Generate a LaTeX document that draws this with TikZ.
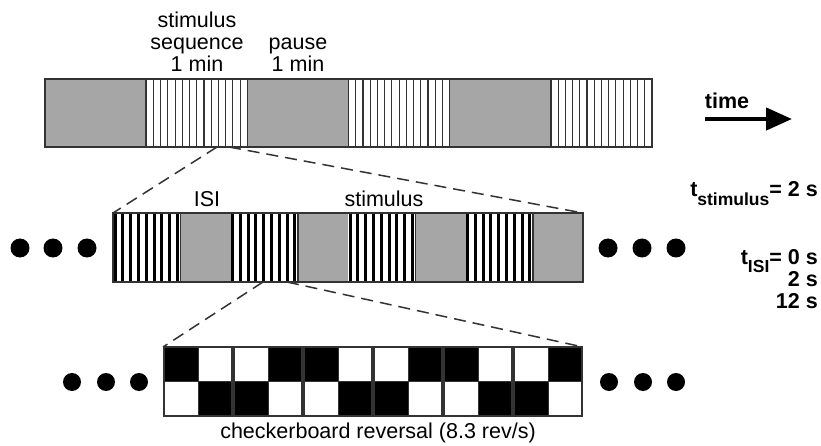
\documentclass[tikz,border=0pt]{standalone}
\usepackage{fontspec}
\setmainfont{Liberation Sans}
\usetikzlibrary{arrows.meta}
\definecolor{barfill}{gray}{0.65}
\definecolor{edge}{gray}{0.2}
\begin{document}
\begin{tikzpicture}[x=1pt,y=-1pt,
  bar/.style={draw=edge, line width=1.5pt, inner sep=0pt, outer sep=0pt, rectangle},
  thinline/.style={draw=edge, line width=1.1pt},
  blackbar/.style={fill=black},
  zoomline/.style={draw=black!80, line width=1.5pt, dash pattern=on 12pt off 7pt},
  dot/.style={circle, fill=black, inner sep=0pt, minimum size=19pt},
  lbl/.style={font=\fontsize{21.5}{22}\selectfont, inner sep=0pt},
  blbl/.style={font=\fontsize{21.5}{22}\selectfont\bfseries, inner sep=0pt}]
\useasboundingbox (0,0) rectangle (821,446);

% ---------- top bar ----------
\foreach \i in {0,2,4}
  \fill[barfill] ({45+\i*101.17},79) rectangle ({45+(\i+1)*101.17},147);
\foreach \i in {1,3,5}
  \foreach \k in {1,...,13}
    \draw[thinline] ({45+\i*101.17+\k*7.23},79) -- ++(0,68);
\foreach \i in {1,...,5}
  \draw[edge, line width=1.5pt] ({45+\i*101.17},79) -- ++(0,68);
\node[bar, minimum width=607pt, minimum height=68pt] (topbar) at (348.5,113) {};

% ---------- middle bar ----------
\foreach \i in {0,...,3}{
  \fill[barfill] ({113+\i*117.5+67.5},213) rectangle ({113+\i*117.5+117.5},282);
  \foreach \k in {0,...,8}
    \fill[blackbar] ({113+\i*117.5+0.5+\k*7.8},213) rectangle ++(3,69);
  \draw[edge, line width=1.2pt] ({113+\i*117.5+67.5},213) -- ++(0,69);
}
\node[bar, minimum width=470pt, minimum height=69pt] (midbar) at (348,247.5) {};

% ---------- checkerboard ----------
\foreach \g in {0,...,5}{
  \pgfmathsetmacro{\xo}{163+\g*70}
  \ifodd\g
    \fill[black] ({\xo+35},347) rectangle ({\xo+70},381.5);
    \fill[black] ({\xo},381.5) rectangle ({\xo+35},416);
  \else
    \fill[black] ({\xo},347) rectangle ({\xo+35},381.5);
    \fill[black] ({\xo+35},381.5) rectangle ({\xo+70},416);
  \fi
  \draw[edge, line width=1pt] ({\xo+35},347) -- ++(0,69);
  \draw[edge, line width=1pt] ({\xo},381.5) -- ++(70,0);
  \draw[edge, line width=1.3pt] ({\xo+1},347) rectangle ({\xo+69},416);
}
\node[rectangle, inner sep=0pt, outer sep=0pt, minimum width=420pt, minimum height=69pt] (checker) at (373,381.5) {};

% ---------- zoom connectors ----------
\coordinate (za) at (217,147);
\coordinate (zb) at (229,147);
\coordinate (zc) at (263,282);
\coordinate (zd) at (287,282);
\draw[zoomline] (za) -- (midbar.north west);
\draw[zoomline] (zb) -- (midbar.north east);
\draw[zoomline] (zc) -- (checker.north west);
\draw[zoomline] (zd) -- (checker.north east);

% ---------- dots ----------
\node[dot] (d1) at (20,248) {};
\node[dot] (d2) at (53,248) {};
\node[dot] (d3) at (87,248) {};
\node[dot] (d4) at (608,248) {};
\node[dot] (d5) at (642,248) {};
\node[dot] (d6) at (676,248) {};
\node[dot, minimum size=18pt] (e1) at (72,382) {};
\node[dot, minimum size=18pt] (e2) at (106,382) {};
\node[dot, minimum size=18pt] (e3) at (139,382) {};
\node[dot, minimum size=18pt] (e4) at (609,382) {};
\node[dot, minimum size=18pt] (e5) at (643,382) {};
\node[dot, minimum size=18pt] (e6) at (676,382) {};

% ---------- labels ----------
\node[lbl, anchor=base] (s1) at (197,28) {stimulus};
\node[lbl, anchor=base] (s2) at (197,50) {sequence};
\node[lbl, anchor=base] (s3) at (197,72) {1 min};
\node[lbl, anchor=base] (p1) at (298,50) {pause};
\node[lbl, anchor=base] (p2) at (298,72) {1 min};
\node[lbl, anchor=base] (isi) at (207,207) {ISI};
\node[lbl, anchor=base] (stim) at (384,207) {stimulus};
\node[lbl, anchor=base] (cb) at (378,438) {checkerboard reversal (8.3 rev/s)};

\node[blbl, anchor=base] (timelbl) at (727,109) {time};
\coordinate (t0) at (705,119);
\coordinate (t1) at (792,119);
\draw[line width=4.5pt, -{Triangle[length=26pt,width=22pt]}] (t0) -- (t1);

\node[blbl, anchor=base east] (tstim) at (818,197) {t\raisebox{-9pt}{\fontsize{17.5}{18}\selectfont stimulus}= 2 s};
\node[blbl, anchor=base east] (tisi) at (818,264) {t\raisebox{-9pt}{\fontsize{17.5}{18}\selectfont ISI}= 0 s};
\node[blbl, anchor=base east] (tisi2) at (818,286) {2 s};
\node[blbl, anchor=base east] (tisi3) at (818,308) {12 s};
\end{tikzpicture}
\end{document}
